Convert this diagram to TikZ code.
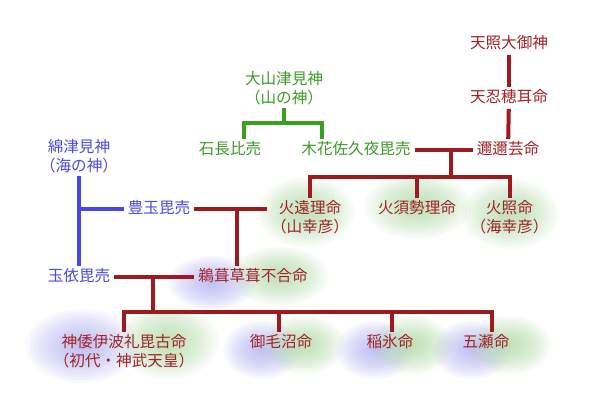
\documentclass[tikz,border=0pt]{standalone}
\usepackage{fontspec}
\newfontfamily\jp{Noto Sans CJK JP}
\definecolor{rtext}{HTML}{A02228}
\definecolor{rcol}{HTML}{9B1B1E}
\definecolor{btext}{HTML}{4B4BE0}
\definecolor{bcol}{HTML}{4848E8}
\definecolor{gtext}{HTML}{3C9A28}
\definecolor{gcol}{HTML}{3A9E1E}
\definecolor{gglow}{HTML}{A8D89A}
\definecolor{bglow}{HTML}{A8A8F2}
\newcommand\myglow[5]{%
  \foreach \k in {1,...,14}{%
    \fill[#1, fill opacity=0.075] (#2,#3) ellipse ({#4*(1.04-\k/14)} and {#5*(1.04-\k/14)});}}
\begin{document}
\begin{tikzpicture}[x=0.75pt,y=-0.75pt,
  lbl/.style={font=\jp\fontsize{11.7}{14.3}\selectfont, inner xsep=3pt, inner ysep=2pt},
  one/.style={lbl, text height=9.5pt, text depth=2.5pt},
  two/.style={lbl, align=center},
  rn/.style={text=rtext},
  bn/.style={text=btext},
  gn/.style={text=gtext},
  redlink/.style={draw=rcol, line width=3pt},
  bluelink/.style={draw=bcol, line width=3pt},
  greenlink/.style={draw=gcol, line width=3pt}]
\useasboundingbox (0,0) rectangle (600,400);
\fill[white] (0,0) rectangle (600,400);
% glows
\myglow{gglow}{306}{212}{50}{36}
\myglow{gglow}{418}{206}{55}{34}
\myglow{gglow}{510}{214}{50}{36}
\myglow{bglow}{212}{283}{45}{28}
\myglow{gglow}{280}{276}{50}{30}
\myglow{bglow}{82}{346}{58}{38}
\myglow{gglow}{168}{342}{52}{38}
\myglow{bglow}{262}{350}{40}{30}
\myglow{gglow}{304}{345}{42}{30}
\myglow{bglow}{375}{350}{40}{30}
\myglow{gglow}{412}{345}{42}{30}
\myglow{bglow}{472}{350}{40}{30}
\myglow{gglow}{510}{345}{42}{30}
% nodes
\node[one,rn] (amaterasu) at (509,44) {天照大御神};
\node[one,rn] (oshihomimi) at (509,98) {天忍穂耳命};
\node[one,rn] (ninigi) at (508,150) {邇邇芸命};
\node[two,gn] (ooyama) at (284,88) {大山津見神\\（山の神）};
\node[one,gn] (iwanaga) at (230,150) {石長比売};
\node[one,gn] (konohana) at (356,150) {木花佐久夜毘売};
\node[two,bn] (watatsumi) at (79,156) {綿津見神\\（海の神）};
\node[one,bn] (toyotama) at (159,209) {豊玉毘売};
\node[two,rn] (hoori) at (310,217.5) {火遠理命\\（山幸彦）};
\node[one,rn] (hosuseri) at (417,209) {火須勢理命};
\node[two,rn] (hoderi) at (509.5,217.5) {火照命\\（海幸彦）};
\node[one,bn] (tamayori) at (79,277) {玉依毘売};
\node[one,rn] (ugaya) at (253,277) {鵜葺草葺不合命};
\node[two,rn] (jinmu) at (124,351.5) {神倭伊波礼毘古命\\（初代・神武天皇）};
\node[one,rn] (mikenu) at (281,343) {御毛沼命};
\node[one,rn] (inahi) at (390,343) {稲氷命};
\node[one,rn] (itsuse) at (486,343) {五瀬命};
% junction coordinates
\coordinate (gbar) at (284,123);
\coordinate (gl) at (244,123);
\coordinate (gr) at (322,123);
\coordinate (m1) at (451,150);
\coordinate (b1) at (451,177);
\coordinate (m2) at (237,209);
\coordinate (m3) at (153,277);
\coordinate (b3) at (153,312);
\coordinate (d1) at (279,312);
\coordinate (d2) at (392,312);
\coordinate (d3) at (492,312);
% red line of descent
\draw[redlink] (amaterasu) -- (oshihomimi);
\draw[redlink] (oshihomimi) -- (ninigi);
\draw[redlink] (konohana.east) -- (ninigi.west);
\draw[redlink] (m1) -- (b1);
\draw[redlink] (hoori.north) -- (hoori.north |- b1) -- (hoderi.north |- b1) -- (hoderi.north);
\draw[redlink] (hosuseri.north |- b1) -- (hosuseri.north);
% green
\draw[greenlink] (ooyama.south) -- (gbar);
\draw[greenlink] (gl |- iwanaga.north) -- (gl) -- (gr) -- (gr |- konohana.north);
% blue
\draw[bluelink] (watatsumi.south) -- (watatsumi.south |- tamayori.north);
\draw[bluelink] (watatsumi.south |- toyotama.west) -- (toyotama.west);
% marriages
\draw[redlink] (toyotama.east) -- (toyotama.east -| hoori.west);
\draw[redlink] (m2) -- (m2 |- ugaya.north);
\draw[redlink] (tamayori.east) -- (ugaya.west);
\draw[redlink] (m3) -- (b3);
\draw[redlink] (jinmu.north) -- (jinmu.north |- b3) -- (d3) -- (d3 |- itsuse.north);
\draw[redlink] (d1) -- (d1 |- mikenu.north);
\draw[redlink] (d2) -- (d2 |- inahi.north);
\end{tikzpicture}
\end{document}
